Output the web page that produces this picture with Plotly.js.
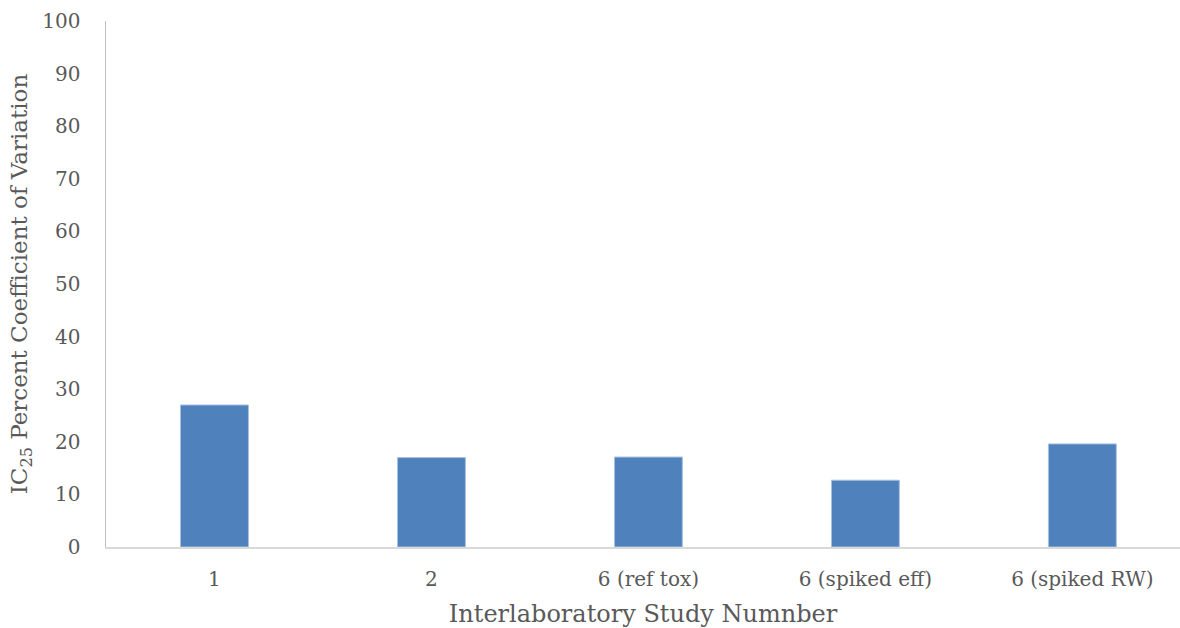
<!DOCTYPE html>
<html>
<head>
<meta charset="utf-8">
<script src="https://cdn.plot.ly/plotly-3.0.1.min.js"></script>
<style>html,body{margin:0;padding:0;background:#fff;}#chart{width:1180px;height:628px;}</style>
</head>
<body>
<div id="chart"></div>
<script>
const categories = ["1", "2", "6 (ref tox)", "6 (spiked eff)", "6 (spiked RW)"];
const cvValues = [27.0, 17.0, 17.1, 12.7, 19.6];
const yTickValues = [0, 10, 20, 30, 40, 50, 60, 70, 80, 90, 100];

const FONT = "DejaVu Serif, Liberation Serif, serif";
const trace = {
  type: "bar",
  x: categories,
  y: cvValues,
  width: 0.313,
  marker: {color: "#4f81bd", line: {color: "#a9c1e0", width: 1}},
  hoverinfo: "x+y"
};
const layout = {
  width: 1180, height: 628,
  margin: {l: 106, r: 0, t: 21, b: 81},
  paper_bgcolor: "#ffffff", plot_bgcolor: "#ffffff",
  showlegend: false,
  font: {family: FONT, color: "#595959"},
  xaxis: {
    type: "category",
    range: [-0.5, 4.45],
    showgrid: false, zeroline: false,
    showline: true, linecolor: "#d9d9d9", linewidth: 2,
    ticks: "", ticklabelstandoff: 13,
    tickfont: {family: FONT, size: 20, color: "#595959"},
    title: {text: "Interlaboratory Study Numnber", font: {family: FONT, size: 24, color: "#595959"}, standoff: 15},
    fixedrange: true
  },
  yaxis: {
    range: [0, 100],
    tickvals: yTickValues,
    ticktext: yTickValues.map(String),
    showgrid: false, zeroline: false,
    showline: true, linecolor: "#bfbfbf", linewidth: 1.5,
    ticks: "", ticklabelstandoff: 20,
    tickfont: {family: FONT, size: 20, color: "#595959"},
    title: {text: "IC<sub>25</sub> Percent Coefficient of Variation", font: {family: FONT, size: 23, color: "#595959"}, standoff: 8},
    fixedrange: true
  }
};
Plotly.newPlot("chart", [trace], layout, {displayModeBar: false, staticPlot: true});
</script>
</body>
</html>
